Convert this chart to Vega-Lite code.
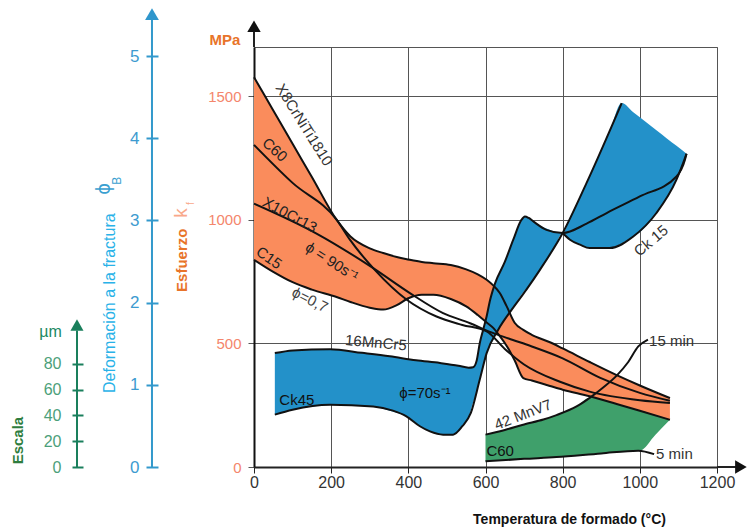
{
"$schema":"https://vega.github.io/schema/vega-lite/v6.json",
"width":463,"height":420,
"autosize":{"type":"none"},
"padding":{"left":254,"top":47,"right":30,"bottom":62},
"background":"white",
"config":{"font":"Liberation Sans","view":{"stroke":"#555","strokeWidth":1},"axis":{"zindex":1}},
"datasets":{
"orange":[{"T":0,"top":1578,"bot":839},{"T":50,"top":1443,"bot":790},{"T":100,"top":1308,"bot":748},{"T":150,"top":1174,"bot":718},{"T":214,"top":1001,"bot":688},{"T":250,"top":933,"bot":668},{"T":300,"top":885,"bot":645},{"T":335,"top":866,"bot":637},{"T":370,"top":850,"bot":655},{"T":400,"top":840,"bot":683},{"T":435,"top":830,"bot":697},{"T":465,"top":825,"bot":697},{"T":510,"top":818,"bot":680},{"T":550,"top":800,"bot":650},{"T":580,"top":780,"bot":615},{"T":603,"top":758,"bot":585},{"T":620,"top":735,"bot":563},{"T":637,"top":704,"bot":530},{"T":655,"top":650,"bot":490},{"T":676,"top":583,"bot":430},{"T":698,"top":555,"bot":360},{"T":720,"top":535,"bot":350},{"T":767,"top":505,"bot":328},{"T":800,"top":480,"bot":313},{"T":870,"top":425,"bot":286},{"T":940,"top":372,"bot":255},{"T":1000,"top":330,"bot":228},{"T":1078,"top":279,"bot":191}],
"blue":[{"T":54,"top":461,"bot":212},{"T":100,"top":472,"bot":232},{"T":150,"top":476,"bot":245},{"T":197,"top":477,"bot":252},{"T":250,"top":468,"bot":250},{"T":309,"top":455,"bot":245},{"T":352,"top":448,"bot":228},{"T":395,"top":437,"bot":205},{"T":430,"top":430,"bot":165},{"T":456,"top":425,"bot":144},{"T":490,"top":420,"bot":131},{"T":516,"top":415,"bot":131},{"T":540,"top":408,"bot":165},{"T":556,"top":402,"bot":200},{"T":568,"top":404,"bot":262},{"T":577,"top":430,"bot":300},{"T":585,"top":500,"bot":353},{"T":594,"top":556,"bot":410},{"T":603,"top":610,"bot":461},{"T":611,"top":670,"bot":490},{"T":624,"top":740,"bot":525},{"T":633,"top":770,"bot":556},{"T":650,"top":830,"bot":595},{"T":672,"top":920,"bot":645},{"T":693,"top":1000,"bot":697},{"T":702,"top":1014,"bot":715},{"T":712,"top":1008,"bot":732},{"T":724,"top":994,"bot":760},{"T":741,"top":978,"bot":798},{"T":758,"top":965,"bot":840},{"T":780,"top":952,"bot":895},{"T":800,"top":947,"bot":947},{"T":819,"top":1010,"bot":920},{"T":845,"top":1095,"bot":900},{"T":870,"top":1175,"bot":886},{"T":900,"top":1280,"bot":882},{"T":922,"top":1360,"bot":886},{"T":953,"top":1473,"bot":905},{"T":983,"top":1436,"bot":933},{"T":1000,"top":1416,"bot":950},{"T":1043,"top":1363,"bot":1028},{"T":1070,"top":1330,"bot":1090},{"T":1095,"top":1300,"bot":1163},{"T":1110,"top":1282,"bot":1215},{"T":1121,"top":1268,"bot":1268}],
"green":[{"T":600,"top":131,"bot":23},{"T":650,"top":150,"bot":28},{"T":700,"top":172,"bot":33},{"T":750,"top":192,"bot":37},{"T":784,"top":210,"bot":40},{"T":836,"top":245,"bot":47},{"T":870,"top":280,"bot":52},{"T":885,"top":279,"bot":54},{"T":940,"top":255,"bot":60},{"T":1000,"top":228,"bot":66},{"T":1040,"top":209,"bot":130},{"T":1078,"top":191,"bot":191}],
"lines":[
{"id":"x8","T":0,"s":1578},{"id":"x8","T":50,"s":1443},{"id":"x8","T":100,"s":1308},{"id":"x8","T":150,"s":1174},{"id":"x8","T":214,"s":1001},{"id":"x8","T":250,"s":933},{"id":"x8","T":300,"s":885},{"id":"x8","T":335,"s":866},{"id":"x8","T":370,"s":850},{"id":"x8","T":400,"s":840},{"id":"x8","T":435,"s":830},{"id":"x8","T":465,"s":825},{"id":"x8","T":510,"s":818},{"id":"x8","T":550,"s":800},{"id":"x8","T":580,"s":780},{"id":"x8","T":603,"s":758},{"id":"x8","T":620,"s":735},{"id":"x8","T":637,"s":704},{"id":"x8","T":655,"s":650},{"id":"x8","T":676,"s":583},{"id":"x8","T":698,"s":555},{"id":"x8","T":720,"s":535},{"id":"x8","T":767,"s":505},{"id":"x8","T":800,"s":480},{"id":"x8","T":870,"s":425},{"id":"x8","T":940,"s":372},{"id":"x8","T":1000,"s":330},{"id":"x8","T":1078,"s":279},
{"id":"c15","T":0,"s":839},{"id":"c15","T":50,"s":790},{"id":"c15","T":100,"s":748},{"id":"c15","T":150,"s":718},{"id":"c15","T":214,"s":688},{"id":"c15","T":250,"s":668},{"id":"c15","T":300,"s":645},{"id":"c15","T":335,"s":637},{"id":"c15","T":370,"s":655},{"id":"c15","T":400,"s":683},{"id":"c15","T":435,"s":697},{"id":"c15","T":465,"s":697},{"id":"c15","T":510,"s":680},{"id":"c15","T":550,"s":650},{"id":"c15","T":580,"s":615},{"id":"c15","T":603,"s":585},{"id":"c15","T":620,"s":563},{"id":"c15","T":637,"s":530},{"id":"c15","T":655,"s":490},{"id":"c15","T":676,"s":430},{"id":"c15","T":698,"s":360},{"id":"c15","T":720,"s":350},{"id":"c15","T":767,"s":328},{"id":"c15","T":800,"s":313},{"id":"c15","T":870,"s":286},{"id":"c15","T":940,"s":255},{"id":"c15","T":1000,"s":228},{"id":"c15","T":1078,"s":191},
{"id":"c60","T":0,"s":1304},{"id":"c60","T":100,"s":1150},{"id":"c60","T":214,"s":1001},{"id":"c60","T":249,"s":919},{"id":"c60","T":313,"s":798},{"id":"c60","T":396,"s":677},{"id":"c60","T":473,"s":609},{"id":"c60","T":540,"s":575},{"id":"c60","T":603,"s":549},{"id":"c60","T":650,"s":478},{"id":"c60","T":700,"s":415},{"id":"c60","T":793,"s":345},{"id":"c60","T":870,"s":305},{"id":"c60","T":1000,"s":270},{"id":"c60","T":1078,"s":259},
{"id":"x10","T":0,"s":1066},{"id":"x10","T":162,"s":945},{"id":"x10","T":309,"s":805},{"id":"x10","T":404,"s":704},{"id":"x10","T":490,"s":623},{"id":"x10","T":560,"s":582},{"id":"x10","T":610,"s":548},{"id":"x10","T":660,"s":520},{"id":"x10","T":720,"s":488},{"id":"x10","T":800,"s":440},{"id":"x10","T":896,"s":362},{"id":"x10","T":1000,"s":300},{"id":"x10","T":1078,"s":268},
{"id":"mn","T":54,"s":461},{"id":"mn","T":100,"s":472},{"id":"mn","T":197,"s":477},{"id":"mn","T":280,"s":462},{"id":"mn","T":352,"s":448},{"id":"mn","T":420,"s":432},{"id":"mn","T":482,"s":421},{"id":"mn","T":530,"s":410},{"id":"mn","T":556,"s":402},{"id":"mn","T":568,"s":404},{"id":"mn","T":577,"s":430},{"id":"mn","T":585,"s":500},{"id":"mn","T":594,"s":556},{"id":"mn","T":603,"s":610},{"id":"mn","T":611,"s":670},{"id":"mn","T":624,"s":740},{"id":"mn","T":650,"s":830},{"id":"mn","T":672,"s":920},{"id":"mn","T":693,"s":1000},{"id":"mn","T":702,"s":1014},{"id":"mn","T":712,"s":1008},{"id":"mn","T":724,"s":994},{"id":"mn","T":758,"s":960},{"id":"mn","T":800,"s":947},{"id":"mn","T":862,"s":985},{"id":"mn","T":914,"s":1028},{"id":"mn","T":1000,"s":1095},{"id":"mn","T":1095,"s":1176},{"id":"mn","T":1117,"s":1244},{"id":"mn","T":1121,"s":1268},
{"id":"ck45","T":54,"s":212},{"id":"ck45","T":100,"s":232},{"id":"ck45","T":197,"s":252},{"id":"ck45","T":309,"s":245},{"id":"ck45","T":360,"s":228},{"id":"ck45","T":395,"s":205},{"id":"ck45","T":430,"s":165},{"id":"ck45","T":456,"s":144},{"id":"ck45","T":490,"s":131},{"id":"ck45","T":516,"s":131},{"id":"ck45","T":540,"s":165},{"id":"ck45","T":562,"s":219},{"id":"ck45","T":585,"s":353},{"id":"ck45","T":603,"s":461},{"id":"ck45","T":633,"s":556},{"id":"ck45","T":668,"s":637},{"id":"ck45","T":706,"s":718},{"id":"ck45","T":741,"s":798},{"id":"ck45","T":800,"s":947},{"id":"ck45","T":862,"s":1150},{"id":"ck45","T":953,"s":1473},
{"id":"ck15","T":800,"s":947},{"id":"ck15","T":819,"s":920},{"id":"ck15","T":845,"s":900},{"id":"ck15","T":870,"s":886},{"id":"ck15","T":922,"s":886},{"id":"ck15","T":983,"s":933},{"id":"ck15","T":1043,"s":1028},{"id":"ck15","T":1095,"s":1163},{"id":"ck15","T":1121,"s":1268},
{"id":"m15","T":600,"s":131},{"id":"m15","T":650,"s":150},{"id":"m15","T":700,"s":172},{"id":"m15","T":750,"s":192},{"id":"m15","T":784,"s":210},{"id":"m15","T":836,"s":245},{"id":"m15","T":870,"s":280},{"id":"m15","T":905,"s":322},{"id":"m15","T":940,"s":370},{"id":"m15","T":970,"s":425},{"id":"m15","T":996,"s":488},{"id":"m15","T":1021,"s":516},
{"id":"m5","T":600,"s":23},{"id":"m5","T":700,"s":33},{"id":"m5","T":784,"s":40},{"id":"m5","T":900,"s":55},{"id":"m5","T":996,"s":66},{"id":"m5","T":1037,"s":52}
],
"ann":[
{"T":130,"s":1385,"txt":"X8CrNiTi1810","g":"a58"},
{"T":54,"s":1284,"txt":"C60","g":"a40"},
{"T":93,"s":1021,"txt":"X10Cr13","g":"a28"},
{"T":202,"s":831,"txt":"ϕ = 90s⁻¹","g":"a33"},
{"T":39,"s":847,"txt":"C15","g":"a35"},
{"T":145,"s":677,"txt":"ϕ=0,7","g":"a27"},
{"T":316,"s":503,"txt":"16MnCr5","g":"a5"},
{"T":111,"s":272,"txt":"Ck45","g":"a0"},
{"T":443,"s":301,"txt":"ϕ=70s⁻¹","g":"a0"},
{"T":638,"s":66,"txt":"C60","g":"a0"},
{"T":1029,"s":916,"txt":"Ck 15","g":"am40"},
{"T":697,"s":212,"txt":"42 MnV7","g":"am21"},
{"T":1024,"s":509,"txt":"15 min","g":"left"},
{"T":1042,"s":52,"txt":"5 min","g":"left"}
],
"side":[
{"T":-75.2,"s":1728,"txt":"MPa","g":"mpa"},
{"T":-186.6,"s":837,"txt":"Esfuerzo","g":"esf"},
{"T":-189,"s":1028,"txt":"k","g":"k"},
{"T":-162,"s":1066,"txt":"f","g":"f"},
{"T":-373,"s":663,"txt":"Deformación a la fractura","g":"def"},
{"T":-387.5,"s":1126,"txt":"ϕ","g":"phi"},
{"T":-356,"s":1159,"txt":"B","g":"B"},
{"T":-527.5,"s":548,"txt":"µm","g":"um"},
{"T":-610.4,"s":107,"txt":"Escala","g":"esc"}
],
"rules":[{"T":1200,"T2":1252,"s":0,"s2":0},{"T":0,"T2":0,"s":1700,"s2":1772}],
"heads":[{"T":0,"s":1784,"dir":"up"},{"T":1262,"s":0,"dir":"right"}],
"phiAxis":[{"T":-264.4,"p":0,"p2":5.45}],
"phiHead":[{"T":-264.4,"p":5.51}],
"umAxis":[{"T":-458.8,"u":0,"u2":106}],
"umHead":[{"T":-458.8,"u":110.3}]
},
"resolve":{"scale":{"y":"independent"}},
"layer":[
{"layer":[
{"data":{"name":"orange"},"mark":{"type":"area","color":"#fa8c5c","interpolate":"monotone"},
 "encoding":{
  "x":{"field":"T","type":"quantitative","scale":{"domain":[0,1200],"nice":false},"title":"Temperatura de formado (°C)",
   "axis":{"values":[0,200,400,600,800,1000,1200],"format":"d","grid":true,"gridColor":"#555","gridWidth":1,"domainColor":"#222","domainWidth":2,"tickColor":"#222","tickSize":6,"labelColor":"#333","labelFontSize":16,"labelPadding":1,"labelFlush":false,"titleFontSize":14,"titleFontWeight":"bold","titleColor":"#111","titleX":315,"titleY":45,"titleBaseline":"top","titleAlign":"center"}},
  "y":{"field":"top","type":"quantitative","scale":{"domain":[0,1700],"nice":false},"title":null,
   "axis":{"orient":"left","values":[0,500,1000,1500],"format":"d","grid":true,"gridColor":"#555","gridWidth":1,"domainColor":"#111","domainWidth":2,"tickColor":"#555","tickSize":6,"labelColor":"#f4866c","labelFontSize":15,"labelPadding":7}},
  "y2":{"field":"bot"}}},
{"data":{"name":"blue"},"mark":{"type":"area","color":"#2391c9","interpolate":"monotone"},
 "encoding":{"x":{"field":"T","type":"quantitative","scale":{"domain":[0,1200],"nice":false}},
  "y":{"field":"top","type":"quantitative","scale":{"domain":[0,1700],"nice":false},"title":null},"y2":{"field":"bot"}}},
{"data":{"name":"green"},"mark":{"type":"area","color":"#3fa06b","interpolate":"monotone"},
 "encoding":{"x":{"field":"T","type":"quantitative","scale":{"domain":[0,1200],"nice":false}},
  "y":{"field":"top","type":"quantitative","scale":{"domain":[0,1700],"nice":false},"title":null},"y2":{"field":"bot"}}},
{"data":{"name":"lines"},"mark":{"type":"line","color":"#111","strokeWidth":2,"interpolate":"monotone"},
 "encoding":{"x":{"field":"T","type":"quantitative","scale":{"domain":[0,1200],"nice":false}},
  "y":{"field":"s","type":"quantitative","scale":{"domain":[0,1700],"nice":false},"title":null},"detail":{"field":"id"}}},
{"data":{"name":"rules"},"mark":{"type":"rule","color":"#222","strokeWidth":2},
 "encoding":{"x":{"field":"T","type":"quantitative","scale":{"domain":[0,1200],"nice":false}},"x2":{"field":"T2"},
  "y":{"field":"s","type":"quantitative","scale":{"domain":[0,1700],"nice":false},"title":null},"y2":{"field":"s2"}}},
{"data":{"name":"heads"},"mark":{"type":"point","filled":true,"color":"#111","opacity":1,"size":180},
 "encoding":{"x":{"field":"T","type":"quantitative","scale":{"domain":[0,1200],"nice":false}},
  "y":{"field":"s","type":"quantitative","scale":{"domain":[0,1700],"nice":false},"title":null},
  "shape":{"field":"dir","type":"nominal","scale":{"domain":["up","right"],"range":["triangle-up","triangle-right"]},"legend":null}}},
{"data":{"name":"ann"},"transform":[{"filter":"datum.g==='a58'"}],"mark":{"type":"text","angle":58,"fontSize":15,"color":"#333"},
 "encoding":{"x":{"field":"T","type":"quantitative"},"y":{"field":"s","type":"quantitative","title":null},"text":{"field":"txt"}}},
{"data":{"name":"ann"},"transform":[{"filter":"datum.g==='a40'"}],"mark":{"type":"text","angle":42,"fontSize":15,"color":"#222"},
 "encoding":{"x":{"field":"T","type":"quantitative"},"y":{"field":"s","type":"quantitative","title":null},"text":{"field":"txt"}}},
{"data":{"name":"ann"},"transform":[{"filter":"datum.g==='a28'"}],"mark":{"type":"text","angle":28,"fontSize":15,"color":"#222"},
 "encoding":{"x":{"field":"T","type":"quantitative"},"y":{"field":"s","type":"quantitative","title":null},"text":{"field":"txt"}}},
{"data":{"name":"ann"},"transform":[{"filter":"datum.g==='a33'"}],"mark":{"type":"text","angle":33,"fontSize":15,"color":"#222"},
 "encoding":{"x":{"field":"T","type":"quantitative"},"y":{"field":"s","type":"quantitative","title":null},"text":{"field":"txt"}}},
{"data":{"name":"ann"},"transform":[{"filter":"datum.g==='a35'"}],"mark":{"type":"text","angle":35,"fontSize":15,"color":"#222"},
 "encoding":{"x":{"field":"T","type":"quantitative"},"y":{"field":"s","type":"quantitative","title":null},"text":{"field":"txt"}}},
{"data":{"name":"ann"},"transform":[{"filter":"datum.g==='a27'"}],"mark":{"type":"text","angle":27,"fontSize":15,"color":"#444"},
 "encoding":{"x":{"field":"T","type":"quantitative"},"y":{"field":"s","type":"quantitative","title":null},"text":{"field":"txt"}}},
{"data":{"name":"ann"},"transform":[{"filter":"datum.g==='a5'"}],"mark":{"type":"text","angle":5,"fontSize":15,"color":"#333"},
 "encoding":{"x":{"field":"T","type":"quantitative"},"y":{"field":"s","type":"quantitative","title":null},"text":{"field":"txt"}}},
{"data":{"name":"ann"},"transform":[{"filter":"datum.g==='a0'"}],"mark":{"type":"text","fontSize":15,"color":"#111"},
 "encoding":{"x":{"field":"T","type":"quantitative"},"y":{"field":"s","type":"quantitative","title":null},"text":{"field":"txt"}}},
{"data":{"name":"ann"},"transform":[{"filter":"datum.g==='am40'"}],"mark":{"type":"text","angle":320,"fontSize":15,"color":"#333"},
 "encoding":{"x":{"field":"T","type":"quantitative"},"y":{"field":"s","type":"quantitative","title":null},"text":{"field":"txt"}}},
{"data":{"name":"ann"},"transform":[{"filter":"datum.g==='am21'"}],"mark":{"type":"text","angle":339,"fontSize":15,"color":"#333"},
 "encoding":{"x":{"field":"T","type":"quantitative"},"y":{"field":"s","type":"quantitative","title":null},"text":{"field":"txt"}}},
{"data":{"name":"ann"},"transform":[{"filter":"datum.g==='left'"}],"mark":{"type":"text","align":"left","fontSize":15,"color":"#333"},
 "encoding":{"x":{"field":"T","type":"quantitative"},"y":{"field":"s","type":"quantitative","title":null},"text":{"field":"txt"}}},
{"data":{"name":"side"},"transform":[{"filter":"datum.g==='mpa'"}],"mark":{"type":"text","fontSize":15,"fontWeight":"bold","color":"#e8742a"},
 "encoding":{"x":{"field":"T","type":"quantitative"},"y":{"field":"s","type":"quantitative","title":null},"text":{"field":"txt"}}},
{"data":{"name":"side"},"transform":[{"filter":"datum.g==='esf'"}],"mark":{"type":"text","angle":270,"fontSize":15,"fontWeight":"bold","color":"#e8742a"},
 "encoding":{"x":{"field":"T","type":"quantitative"},"y":{"field":"s","type":"quantitative","title":null},"text":{"field":"txt"}}},
{"data":{"name":"side"},"transform":[{"filter":"datum.g==='k'"}],"mark":{"type":"text","angle":270,"fontSize":19,"color":"#f9a88a"},
 "encoding":{"x":{"field":"T","type":"quantitative"},"y":{"field":"s","type":"quantitative","title":null},"text":{"field":"txt"}}},
{"data":{"name":"side"},"transform":[{"filter":"datum.g==='f'"}],"mark":{"type":"text","angle":270,"fontSize":10,"color":"#f9a88a"},
 "encoding":{"x":{"field":"T","type":"quantitative"},"y":{"field":"s","type":"quantitative","title":null},"text":{"field":"txt"}}},
{"data":{"name":"side"},"transform":[{"filter":"datum.g==='def'"}],"mark":{"type":"text","angle":270,"fontSize":16,"color":"#29b2e8"},
 "encoding":{"x":{"field":"T","type":"quantitative"},"y":{"field":"s","type":"quantitative","title":null},"text":{"field":"txt"}}},
{"data":{"name":"side"},"transform":[{"filter":"datum.g==='phi'"}],"mark":{"type":"text","angle":270,"fontSize":20,"color":"#3a9fd0"},
 "encoding":{"x":{"field":"T","type":"quantitative"},"y":{"field":"s","type":"quantitative","title":null},"text":{"field":"txt"}}},
{"data":{"name":"side"},"transform":[{"filter":"datum.g==='B'"}],"mark":{"type":"text","angle":270,"fontSize":12,"color":"#3a9fd0"},
 "encoding":{"x":{"field":"T","type":"quantitative"},"y":{"field":"s","type":"quantitative","title":null},"text":{"field":"txt"}}},
{"data":{"name":"side"},"transform":[{"filter":"datum.g==='um'"}],"mark":{"type":"text","fontSize":16,"color":"#1b8a64"},
 "encoding":{"x":{"field":"T","type":"quantitative"},"y":{"field":"s","type":"quantitative","title":null},"text":{"field":"txt"}}},
{"data":{"name":"side"},"transform":[{"filter":"datum.g==='esc'"}],"mark":{"type":"text","angle":270,"fontSize":15,"fontWeight":"bold","color":"#2e7d3e"},
 "encoding":{"x":{"field":"T","type":"quantitative"},"y":{"field":"s","type":"quantitative","title":null},"text":{"field":"txt"}}}
]},
{"layer":[
{"data":{"name":"phiAxis"},"mark":{"type":"rule","color":"#3399cc","strokeWidth":2},
 "encoding":{"x":{"field":"T","type":"quantitative","scale":{"domain":[0,1200],"nice":false}},
  "y":{"field":"p","type":"quantitative","scale":{"domain":[0,5.11],"nice":false},"title":null,
   "axis":{"orient":"left","offset":96,"values":[0,1,2,3,4,5],"format":"d","domain":false,"grid":false,"tickColor":"#3399cc","tickWidth":2,"tickSize":12,"labelColor":"#3d9bd0","labelFontSize":17,"labelPadding":7}},
  "y2":{"field":"p2"}}},
{"data":{"name":"phiHead"},"mark":{"type":"point","shape":"triangle-up","filled":true,"opacity":1,"color":"#2f96cc","size":190},
 "encoding":{"x":{"field":"T","type":"quantitative","scale":{"domain":[0,1200],"nice":false}},
  "y":{"field":"p","type":"quantitative","scale":{"domain":[0,5.11],"nice":false},"title":null}}}
]},
{"layer":[
{"data":{"name":"umAxis"},"mark":{"type":"rule","color":"#1a7f5c","strokeWidth":2},
 "encoding":{"x":{"field":"T","type":"quantitative","scale":{"domain":[0,1200],"nice":false}},
  "y":{"field":"u","type":"quantitative","scale":{"domain":[0,326.2],"nice":false},"title":null,
   "axis":{"orient":"left","offset":171,"values":[0,20,40,60,80],"format":"d","domain":false,"grid":false,"tickColor":"#1a7f5c","tickWidth":2,"tickSize":11,"labelColor":"#4c9f7a","labelFontSize":16,"labelPadding":11}},
  "y2":{"field":"u2"}}},
{"data":{"name":"umHead"},"mark":{"type":"point","shape":"triangle-up","filled":true,"opacity":1,"color":"#1a7f5c","size":170},
 "encoding":{"x":{"field":"T","type":"quantitative","scale":{"domain":[0,1200],"nice":false}},
  "y":{"field":"u","type":"quantitative","scale":{"domain":[0,326.2],"nice":false},"title":null}}}
]}
]
}
